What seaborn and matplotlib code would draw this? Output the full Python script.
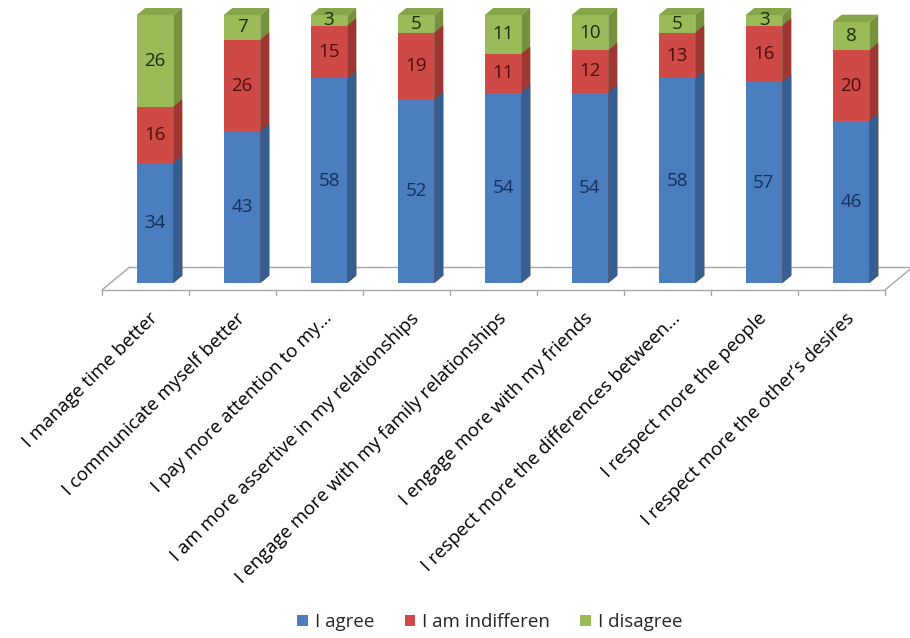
import numpy as np
import pandas as pd
import matplotlib
matplotlib.use("Agg")
import matplotlib.pyplot as plt
import seaborn as sns
from matplotlib.patches import Polygon, Patch

categories = [
    "I manage time better",
    "I communicate myself better",
    "I pay more attention to my...",
    "I am more assertive in my relationships",
    "I engage more with my family relationships",
    "I engage more with my friends",
    "I respect more the differences between...",
    "I respect more the people",
    "I respect more the other\u2019s desires",
]
agree = [34, 43, 58, 52, 54, 54, 58, 57, 46]
indifferent = [16, 26, 15, 19, 11, 12, 13, 16, 20]
disagree = [26, 7, 3, 5, 11, 10, 5, 3, 8]
series_names = ["I agree", "I am indifferen", "I disagree"]

front_colors = ["#4a7ebf", "#cf4a46", "#9bbb59"]
side_colors = ["#365f91", "#9e3633", "#76923c"]
top_colors = ["#5e8ccb", "#b94240", "#86a64a"]
text_colors = ["#142f5a", "#4a0c0c", "#1c2b0a"]

df = pd.DataFrame({"category": categories, "agree": agree,
                   "indifferent": indifferent, "disagree": disagree})
df["c1"] = df["agree"]
df["c2"] = df["agree"] + df["indifferent"]
df["c3"] = df["c2"] + df["disagree"]

sns.set_theme(style="white")
plt.rcParams["font.family"] = ["Open Sans", "DejaVu Sans"]

W, H = 910, 638
fig = plt.figure(figsize=(W / 100, H / 100), dpi=100)
x0px, x1px = 111.5, 111.5 + 9 * 87
ybot_px, ytop_px = 300, 8
zero_px, ppu = 283, 3.526
ax = fig.add_axes([x0px / W, 1 - ybot_px / H, (x1px - x0px) / W, (ybot_px - ytop_px) / H])

# floor
fy, by = -1.985, 4.54
fl, fr = -0.61, 8.39
bdx = 0.32
floor_col = "#a6a6a6"
ax.plot([fl, fr], [fy, fy], color=floor_col, lw=1.0, zorder=1, clip_on=False)
ax.plot([fl + bdx, fr + bdx], [by, by], color=floor_col, lw=1.0, zorder=1, clip_on=False)
ax.plot([fl, fl + bdx], [fy, by], color=floor_col, lw=1.0, zorder=1, clip_on=False)
ax.plot([fr, fr + bdx], [fy, by], color=floor_col, lw=1.0, zorder=1, clip_on=False)
for k in range(10):
    ax.plot([fl + k, fl + k], [fy, fy - 1.42], color=floor_col, lw=1.0, zorder=1, clip_on=False)

dx, dy = 0.103, 2.1
layers = [("c3", 2), ("c2", 1), ("c1", 0)]
for col, si in layers:
    n0 = len(ax.patches)
    sns.barplot(data=df, x="category", y=col, color=front_colors[si], width=0.42,
                saturation=1, edgecolor="none", linewidth=0, ax=ax, zorder=3)
    for p in ax.patches[n0:]:
        x, w, h = p.get_x(), p.get_width(), p.get_height()
        side = Polygon([(x + w, 0), (x + w + dx, dy), (x + w + dx, h + dy), (x + w, h)],
                       closed=True, facecolor=side_colors[si], edgecolor="none", zorder=3)
        ax.add_patch(side)
        if si == 2:
            top = Polygon([(x, h), (x + dx, h + dy), (x + w + dx, h + dy), (x + w, h)],
                          closed=True, facecolor=top_colors[si], edgecolor="none", zorder=3)
            ax.add_patch(top)

# value labels
for i in range(len(categories)):
    bottoms = [0, agree[i], agree[i] + indifferent[i]]
    vals = [agree[i], indifferent[i], disagree[i]]
    for si in range(3):
        ax.text(i, bottoms[si] + vals[si] / 2, str(vals[si]), ha="center", va="center",
                fontsize=13.5, color=text_colors[si], zorder=5)

# category labels
for i, lab in enumerate(categories):
    ax.text(i - 0.07, -7.4, lab, rotation=45, rotation_mode="anchor", ha="right", va="top",
            fontsize=13.5, color="black", clip_on=False)

ax.set_xlim(-0.5, 8.5)
ax.set_ylim(-(ybot_px - zero_px) / ppu, (zero_px - ytop_px) / ppu)
ax.set_xticks([])
ax.set_yticks([])
ax.set_xlabel("")
ax.set_ylabel("")
for s in ax.spines.values():
    s.set_visible(False)
ax.patch.set_alpha(0)

handles = [Patch(facecolor=front_colors[i], edgecolor="none") for i in range(3)]
fig.legend(handles, series_names, loc="center", bbox_to_anchor=(490 / W, 1 - 622 / H),
           ncol=3, frameon=False, handlelength=0.55, handleheight=0.55,
           handletextpad=0.4, columnspacing=1.6, fontsize=13.5)

fig.savefig("out.png", dpi=100, facecolor="white")
